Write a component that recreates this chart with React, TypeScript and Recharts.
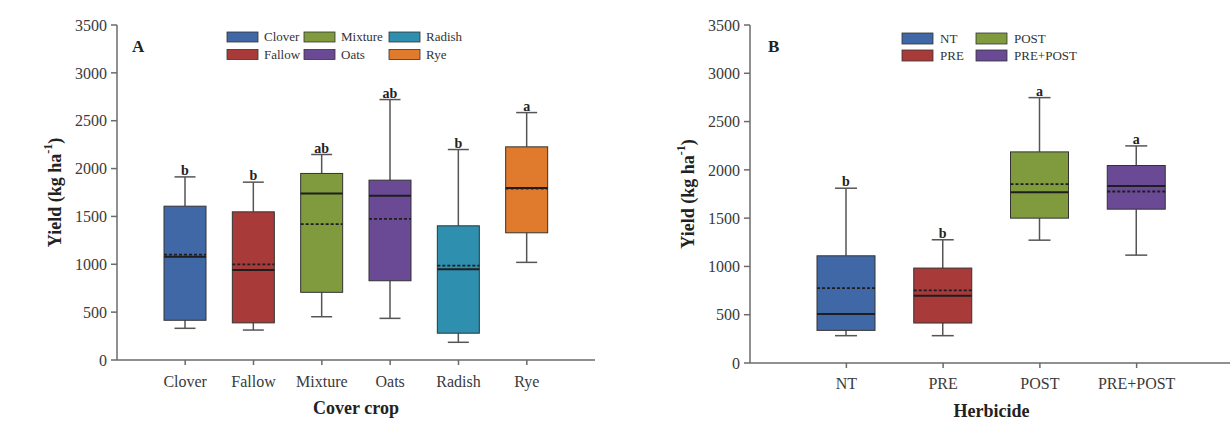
import React from 'react';
import { ComposedChart, Bar, XAxis, YAxis } from 'recharts';

// Panel A - cover crop
const coverCrops = ['Clover', 'Fallow', 'Mixture', 'Oats', 'Radish', 'Rye'];
const coverMin = [331, 313, 452, 435, 185, 1020];
const coverQ1 = [415, 388, 707, 828, 280, 1329];
const coverMedian = [1080, 940, 1740, 1715, 947, 1797];
const coverMean = [1100, 1000, 1420, 1475, 985, 1790];
const coverQ3 = [1607, 1548, 1949, 1879, 1402, 2227];
const coverMax = [1913, 1858, 2147, 2721, 2199, 2585];
const coverLetters = ['b', 'b', 'ab', 'ab', 'b', 'a'];

// Panel B - herbicide
const herbicides = ['NT', 'PRE', 'POST', 'PRE+POST'];
const herbMin = [283, 283, 1272, 1117];
const herbQ1 = [338, 414, 1500, 1593];
const herbMedian = [507, 697, 1769, 1834];
const herbMean = [776, 752, 1852, 1776];
const herbQ3 = [1110, 983, 2186, 2045];
const herbMax = [1810, 1276, 2748, 2248];
const herbLetters = ['b', 'b', 'a', 'a'];

const yTicks = [0, 500, 1000, 1500, 2000, 2500, 3000, 3500];

const coverColors = ['#4068a6', '#a83b3a', '#7f9b3e', '#6a4a94', '#2e8fae', '#e07b2e'];
const herbColors = ['#4068a6', '#a83b3a', '#7f9b3e', '#6a4a94'];

const FONT = '"Liberation Serif", "Times New Roman", serif';
const AXIS = '#6b6b6b';

type Row = { name: string; min: number; q1: number; median: number; mean: number; q3: number; max: number; letter: string };

const build = (names: string[], mn: number[], q1: number[], md: number[], me: number[], q3: number[], mx: number[], lt: string[]): Row[] =>
  names.map((name, i) => ({ name, min: mn[i], q1: q1[i], median: md[i], mean: me[i], q3: q3[i], max: mx[i], letter: lt[i] }));

const coverData = build(coverCrops, coverMin, coverQ1, coverMedian, coverMean, coverQ3, coverMax, coverLetters);
const herbData = build(herbicides, herbMin, herbQ1, herbMedian, herbMean, herbQ3, herbMax, herbLetters);

function makeBoxShape(colors: string[], capWidth: number) {
  return (props: any) => {
    const { x, y, width, height, payload, index } = props;
    const top = Math.min(y, y + height);
    const bot = Math.max(y, y + height);
    // same linear scale the bar was drawn with
    const py = (v: number) => bot - ((v - payload.q1) / (payload.q3 - payload.q1)) * (bot - top);
    const cx = x + width / 2;
    const half = capWidth / 2;
    return (
      <g>
        <line x1={cx} x2={cx} y1={py(payload.max)} y2={top} stroke="#555" strokeWidth={1.5} />
        <line x1={cx} x2={cx} y1={bot} y2={py(payload.min)} stroke="#555" strokeWidth={1.5} />
        <line x1={cx - half} x2={cx + half} y1={py(payload.max)} y2={py(payload.max)} stroke="#555" strokeWidth={1.5} />
        <line x1={cx - half} x2={cx + half} y1={py(payload.min)} y2={py(payload.min)} stroke="#555" strokeWidth={1.5} />
        <rect x={x} y={top} width={width} height={bot - top} fill={colors[index]} stroke="#333" strokeWidth={1} />
        <line x1={x} x2={x + width} y1={py(payload.median)} y2={py(payload.median)} stroke="#1e1e1e" strokeWidth={2} />
        <line x1={x} x2={x + width} y1={py(payload.mean)} y2={py(payload.mean)} stroke="#1e1e1e" strokeWidth={1.8} strokeDasharray="3 2" />
        <text x={cx} y={py(payload.max) - 2} textAnchor="middle" fontFamily={FONT} fontWeight="bold" fontSize={14} fill="#222">
          {payload.letter}
        </text>
      </g>
    );
  };
}

const XTitle = ({ viewBox, text }: any) => (
  <text x={viewBox.x + viewBox.width / 2} y={viewBox.y + 54} textAnchor="middle" fontFamily={FONT} fontWeight="bold" fontSize={18} fill="#222">
    {text}
  </text>
);

const YTitle = ({ viewBox }: any) => {
  const cx = viewBox.x + viewBox.width - 62;
  const cy = viewBox.y + viewBox.height / 2;
  return (
    <text x={cx} y={cy} transform={`rotate(-90 ${cx} ${cy})`} textAnchor="middle" dominantBaseline="central" fontFamily={FONT} fontWeight="bold" fontSize={18} fill="#222">
      Yield (kg ha<tspan dy={-7} fontSize={12}>-1</tspan><tspan dy={7}>)</tspan>
    </text>
  );
};

type PanelProps = {
  data: Row[];
  colors: string[];
  width: number;
  yAxisWidth: number;
  marginRight: number;
  xHeight: number;
  barSize: number;
  capWidth: number;
  pad: number;
  tickMargin: number;
  xTitle: string;
};

function Panel({ data, colors, width, yAxisWidth, marginRight, xHeight, barSize, capWidth, pad, tickMargin, xTitle }: PanelProps) {
  const tickStyle = { fontFamily: FONT, fontSize: 16, fill: '#3a3a3a' };
  return (
    <ComposedChart width={width} height={434} data={data} margin={{ top: 25, right: marginRight, bottom: 0, left: 0 }}>
      <XAxis
        dataKey="name"
        padding={{ left: pad, right: pad }}
        height={xHeight}
        tickSize={5}
        tickMargin={tickMargin}
        tick={tickStyle}
        stroke={AXIS}
        strokeWidth={1.5}
        label={<XTitle text={xTitle} />}
      />
      <XAxis xAxisId="top" orientation="top" dataKey="name" height={0} tick={false} tickLine={false} stroke={AXIS} strokeWidth={1.5} />
      <YAxis
        domain={[0, 3500]}
        ticks={yTicks}
        width={yAxisWidth}
        tickSize={6}
        tickMargin={4}
        tick={tickStyle}
        stroke={AXIS}
        strokeWidth={1.5}
        label={<YTitle />}
      />
      <YAxis yAxisId="right" orientation="right" domain={[0, 3500]} width={0} tick={false} tickLine={false} stroke={AXIS} strokeWidth={1.5} />
      <Bar dataKey={(d: Row) => [d.q1, d.q3]} barSize={barSize} shape={makeBoxShape(colors, capWidth)} isAnimationActive={false} />
    </ComposedChart>
  );
}

function LegendBlock({ names, colors, colX, rowY, swatchH, textOffset }: { names: string[]; colors: string[]; colX: number[]; rowY: number[]; swatchH: number; textOffset: number }) {
  return (
    <g>
      {names.map((n, i) => {
        const cx = colX[Math.floor(i / 2)];
        const ry = rowY[i % 2];
        return (
          <g key={n}>
            <rect x={cx} y={ry} width={31} height={swatchH} fill={colors[i]} stroke="#333" strokeWidth={0.8} />
            <text x={cx + textOffset} y={ry + swatchH - 1} fontFamily={FONT} fontSize={13} fill="#333">
              {n}
            </text>
          </g>
        );
      })}
    </g>
  );
}

export default function App() {
  return (
    <div style={{ position: 'fixed', left: 0, top: 0, width: 1230, height: 434, overflow: 'hidden', background: '#fff' }}>
      <div style={{ position: 'absolute', left: 0, top: 0 }}>
        <Panel data={coverData} colors={coverColors} width={620} yAxisWidth={117} marginRight={25} xHeight={74} barSize={42} capWidth={21} pad={34} tickMargin={11} xTitle="Cover crop" />
      </div>
      <div style={{ position: 'absolute', left: 630, top: 0 }}>
        <Panel data={herbData} colors={herbColors} width={620} yAxisWidth={120} marginRight={17} xHeight={71} barSize={58} capWidth={22} pad={48} tickMargin={10} xTitle="Herbicide" />
      </div>
      <svg width={1230} height={434} style={{ position: 'absolute', left: 0, top: 0, pointerEvents: 'none' }}>
        <text x={132} y={52} fontFamily={FONT} fontWeight="bold" fontSize={17} fill="#222">A</text>
        <text x={768} y={52} fontFamily={FONT} fontWeight="bold" fontSize={17} fill="#222">B</text>
        <LegendBlock names={coverCrops} colors={coverColors} colX={[227, 304, 389]} rowY={[32, 49.5]} swatchH={10} textOffset={37} />
        <LegendBlock names={herbicides} colors={herbColors} colX={[902, 976]} rowY={[33, 50]} swatchH={11} textOffset={38} />
      </svg>
    </div>
  );
}
